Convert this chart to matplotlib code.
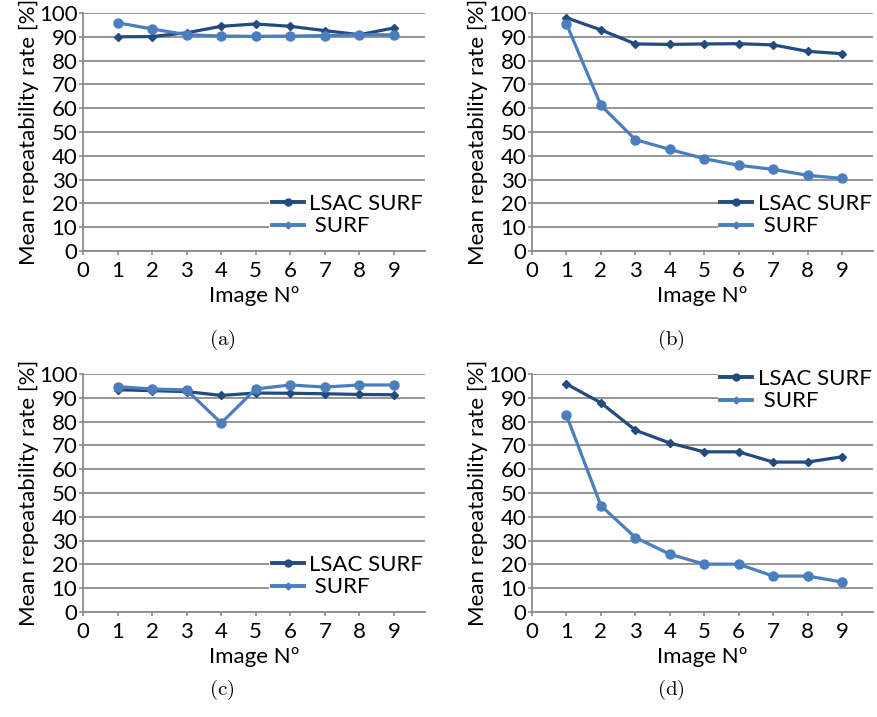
import matplotlib
matplotlib.use("Agg")
import matplotlib.pyplot as plt
from matplotlib.lines import Line2D

plt.rcParams['font.family'] = ['Lato', 'DejaVu Sans']
plt.rcParams['mathtext.fontset'] = 'cm'

images = [1, 2, 3, 4, 5, 6, 7, 8, 9]
xticks = [0, 1, 2, 3, 4, 5, 6, 7, 8, 9]
yticks = [0, 10, 20, 30, 40, 50, 60, 70, 80, 90, 100]

lsac_a = [90.0, 90.1, 91.7, 94.4, 95.4, 94.4, 92.6, 90.9, 93.7]
surf_a = [95.9, 93.3, 90.9, 90.3, 90.2, 90.3, 90.5, 90.9, 90.8]
lsac_b = [98.0, 92.9, 87.0, 86.8, 87.0, 87.1, 86.6, 83.9, 82.9]
surf_b = [95.4, 61.2, 46.8, 42.7, 38.8, 36.0, 34.3, 31.8, 30.5]
lsac_c = [93.4, 93.0, 92.6, 91.0, 92.0, 91.9, 91.7, 91.4, 91.3]
surf_c = [94.7, 93.7, 93.3, 79.4, 93.7, 95.4, 94.5, 95.4, 95.4]
lsac_d = [95.8, 87.9, 76.4, 71.0, 67.3, 67.3, 63.0, 63.0, 65.2]
surf_d = [82.7, 44.7, 31.3, 24.3, 20.1, 20.1, 15.1, 15.1, 12.6]

captions = ['(a)', '(b)', '(c)', '(d)']
series_names = ['LSAC SURF', ' SURF']

DARK = '#234B7E'
LIGHT = '#4A7EBE'
GRID = '#8C8C8C'
FS = 16

W, H = 877, 717
fig = plt.figure(figsize=(W / 100, H / 100), dpi=100)

# axes boxes in pixels: left, top, right, bottom
boxes = [(83, 13, 425, 251), (532, 13, 873, 251),
         (83, 374, 425, 612), (532, 374, 873, 612)]
data = [(lsac_a, surf_a), (lsac_b, surf_b), (lsac_c, surf_c), (lsac_d, surf_d)]
legend_pos = [(0.545, 0.151), (0.545, 0.151), (0.545, 0.151), (0.545, 0.933)]

for i, ((l, t, r, b), (lsac, surf)) in enumerate(zip(boxes, data)):
    ax = fig.add_axes([l / W, (H - b) / H, (r - l) / W, (b - t) / H])
    ax.set_xlim(0, 9.9)
    ax.set_ylim(0, 100)
    ax.set_xticks(xticks)
    ax.set_yticks(yticks)
    ax.yaxis.grid(True, color=GRID, linewidth=1.3)
    ax.set_axisbelow(True)
    for s in ['top', 'right']:
        ax.spines[s].set_visible(False)
    for s in ['left', 'bottom']:
        ax.spines[s].set_color(GRID)
        ax.spines[s].set_linewidth(1.3)
    ax.tick_params(axis='both', direction='out', length=3, width=1.2,
                   color=GRID, labelsize=FS)
    ax.tick_params(axis='x', pad=4)
    ax.tick_params(axis='y', pad=1)
    ax.plot(images, lsac, color=DARK, linewidth=2.3, marker='D',
            markersize=4.5, clip_on=False, zorder=3)
    ax.plot(images, surf, color=LIGHT, linewidth=2.3, marker='o',
            markersize=6.5, clip_on=False, zorder=3)
    ax.set_ylabel('Mean repeatability rate [%]', fontsize=FS, labelpad=0)
    ax.set_xlabel('Image Nº', fontsize=FS, labelpad=4)
    handles = [Line2D([], [], color=DARK, linewidth=2.8, marker='o', markersize=5),
               Line2D([], [], color=LIGHT, linewidth=2.8, marker='D', markersize=3.5)]
    leg = ax.legend(handles, series_names, loc='center left',
                    bbox_to_anchor=legend_pos[i], fontsize=FS, frameon=True,
                    fancybox=False, edgecolor='none', facecolor='white',
                    framealpha=1, handlelength=1.45, handletextpad=0.25,
                    labelspacing=0.12, borderpad=0.1, borderaxespad=0)
    cx = (l + r) / 2 - 32
    fig.text(cx / W, 1 - 340 / H if i < 2 else 1 - 690 / H,
             r'$\mathrm{' + captions[i] + '}$', ha='center', va='center',
             fontsize=15)

fig.savefig('out.png', dpi=100)
